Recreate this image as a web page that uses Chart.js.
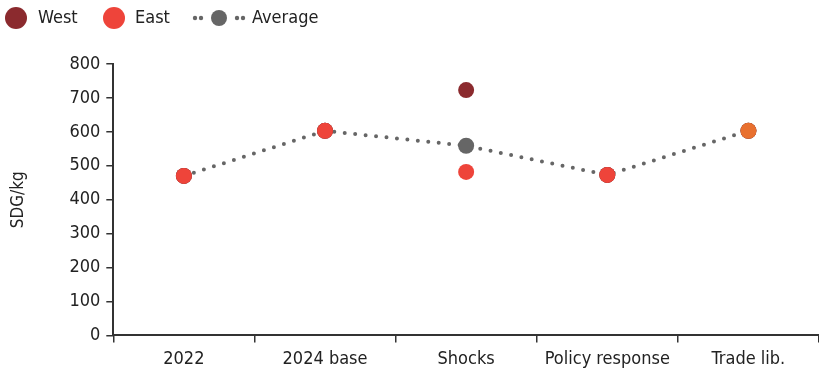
<!DOCTYPE html>
<html>
<head>
<meta charset="utf-8">
<script src="https://cdn.jsdelivr.net/npm/chart.js@4/dist/chart.umd.min.js"></script>
<style>
  html, body { margin: 0; padding: 0; background: #fff; }
  #wrap { position: relative; width: 819px; height: 374px; }
  canvas { display: block; }
</style>
</head>
<body>
<div id="wrap"><canvas id="c" width="819" height="374"></canvas></div>
<script>
// Price scenarios, SDG per kg
const categories = ['2022', '2024 base', 'Shocks', 'Policy response', 'Trade lib.'];
const westValues = [470, 603, 723, 473, 603];
const eastValues = [470, 603, 482, 473, 603];
const averageValues = [470, 603, 559, 473, 603];
const yTicks = [0, 100, 200, 300, 400, 500, 600, 700, 800];

const FONT = "'Liberation Sans Narrow', 'Arial Narrow', 'DejaVu Sans Condensed', sans-serif";
const WEST = '#8B2A2E';
const EAST = '#EE443A';
const TRADE = '#E8702F';
const AVG = '#666666';

// Legend drawn across the top strip
const legendPlugin = {
  id: 'topLegend',
  afterDraw(chart) {
    const ctx = chart.ctx;
    ctx.save();
    ctx.font = '18px ' + FONT;
    ctx.textBaseline = 'middle';
    const y = 18;
    ctx.fillStyle = WEST;
    ctx.beginPath(); ctx.arc(16, y, 11, 0, Math.PI * 2); ctx.fill();
    ctx.fillStyle = '#222';
    ctx.fillText('West', 38, y);
    ctx.fillStyle = EAST;
    ctx.beginPath(); ctx.arc(114, y, 11, 0, Math.PI * 2); ctx.fill();
    ctx.fillStyle = '#222';
    ctx.fillText('East', 135, y);
    ctx.fillStyle = AVG;
    [195, 201, 237, 243].forEach(x => { ctx.beginPath(); ctx.arc(x, y, 2.2, 0, Math.PI * 2); ctx.fill(); });
    ctx.beginPath(); ctx.arc(219, y, 8, 0, Math.PI * 2); ctx.fill();
    ctx.fillStyle = '#222';
    ctx.fillText('Average', 252, y);
    ctx.restore();
  }
};

new Chart(document.getElementById('c'), {
  type: 'line',
  data: {
    labels: categories,
    datasets: [
      {
        label: 'East',
        data: eastValues,
        showLine: false,
        pointRadius: 8,
        pointHoverRadius: 8,
        pointBorderWidth: 0,
        pointBackgroundColor: [EAST, EAST, EAST, EAST, TRADE],
        backgroundColor: EAST,
        borderColor: EAST,
        order: 0
      },
      {
        label: 'West',
        data: westValues,
        showLine: false,
        pointRadius: 8,
        pointHoverRadius: 8,
        pointBorderWidth: 0,
        pointBackgroundColor: WEST,
        backgroundColor: WEST,
        borderColor: WEST,
        order: 1
      },
      {
        label: 'Average',
        data: averageValues,
        borderColor: AVG,
        borderWidth: 4,
        borderDash: [0, 10.5],
        borderCapStyle: 'round',
        pointRadius: 8,
        pointHoverRadius: 8,
        pointBorderWidth: 0,
        pointBackgroundColor: AVG,
        tension: 0,
        order: 2
      }
    ]
  },
  options: {
    responsive: false,
    animation: false,
    layout: { autoPadding: false, padding: { top: 64, right: 0, left: 8, bottom: -2 } },
    plugins: { legend: { display: false }, tooltip: { enabled: false } },
    scales: {
      x: {
        offset: true,
        afterFit(scale) { scale.paddingLeft = 0; scale.paddingRight = 0; },
        grid: { offset: true, drawOnChartArea: false, drawTicks: true, tickLength: 7, color: '#333', lineWidth: 1.5 },
        border: { display: true, color: '#333', width: 2 },
        ticks: { color: '#222', font: { family: FONT, size: 18 }, padding: 6, maxRotation: 0 }
      },
      y: {
        min: 0,
        max: 800,
        afterBuildTicks(axis) { axis.ticks = yTicks.map(v => ({ value: v })); },
        grid: { drawOnChartArea: false, drawTicks: true, tickLength: 7, color: '#333', lineWidth: 1.5 },
        border: { display: true, color: '#333', width: 2 },
        ticks: { color: '#222', font: { family: FONT, size: 18 }, padding: 6 },
        title: { display: true, text: 'SDG/kg', color: '#222', font: { family: FONT, size: 17 }, padding: { top: 0, bottom: 35 } }
      }
    }
  },
  plugins: [legendPlugin]
});
</script>
</body>
</html>
